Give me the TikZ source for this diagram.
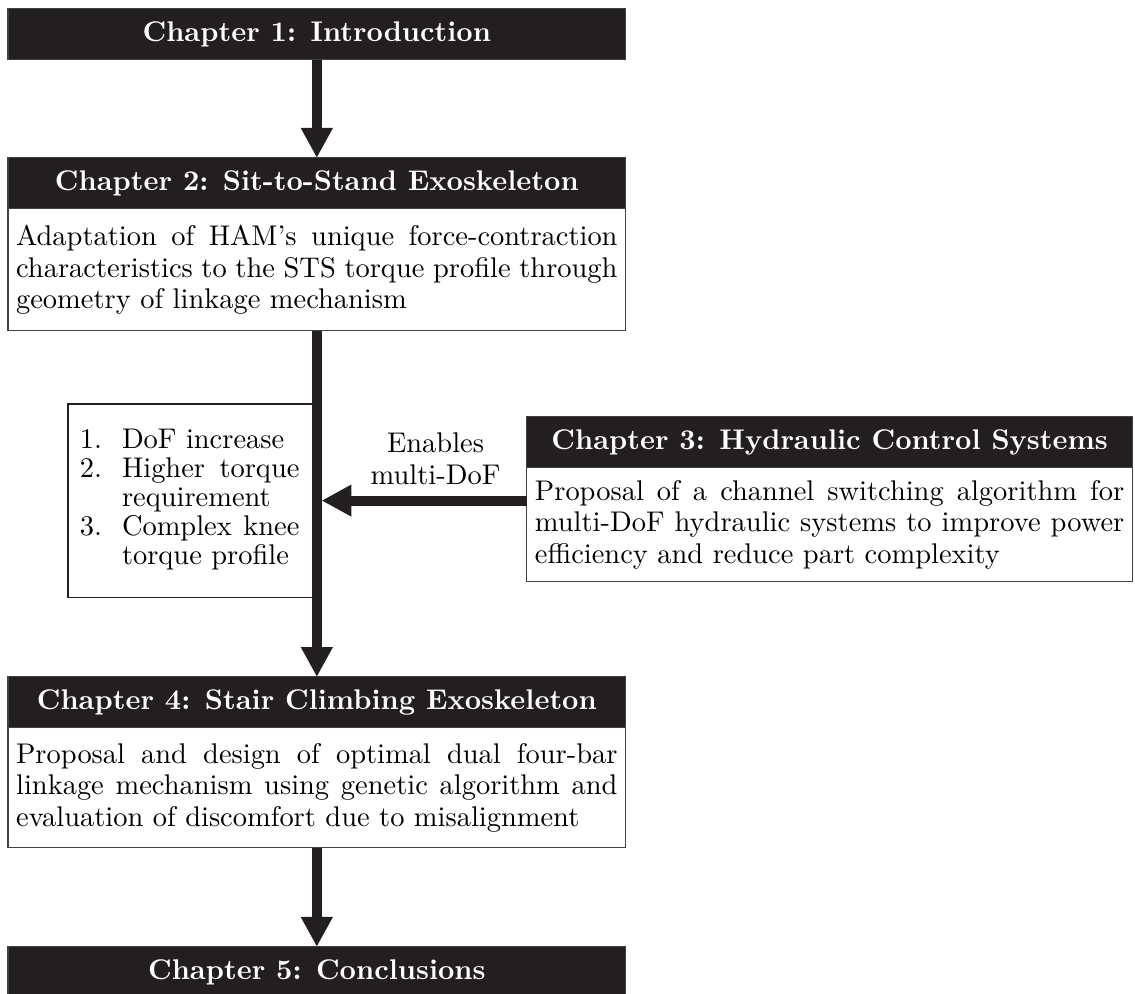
\documentclass[tikz,border=0pt]{standalone}
\usepackage{tikz}
\usepackage{enumitem}
\usetikzlibrary{positioning}
\usetikzlibrary{arrows.meta}
\definecolor{chapdark}{RGB}{35,31,32}
\hyphenpenalty=10000
\exhyphenpenalty=10000
\tikzset{chapHead/.style={draw=chapdark!85, fill=chapdark, text=white, font=\fontsize{10.95}{12}\selectfont\bfseries, minimum width=#1, minimum height=0.69cm, inner sep=0pt, outer sep=0pt}}
\tikzset{chapHead/.default=8.354cm}
\tikzset{chapBody/.style={draw=chapdark!85, fill=white, text width=#1, align=justify, font=\fontsize{10.95}{12.2}\selectfont, inner xsep=0.11cm, inner ysep=4pt, outer sep=0pt}}
\tikzset{chapBody/.default=8.134cm}
\tikzset{listBox/.style={draw=chapdark, line width=0.6pt, fill=white, text width=3.04cm, align=justify, font=\fontsize{10.95}{11.1}\selectfont, inner xsep=0.162cm, minimum height=2.62cm, outer sep=0pt}}
\tikzset{bigArrow/.style={line width=3.85pt, draw=chapdark, -{Triangle[width=11.5pt,length=11.5pt]}}}

\begin{document}
\begin{tikzpicture}

\useasboundingbox (0,0) rectangle (15.35,-13.44);

\node[chapHead] (ch1) at (4.285, -0.46) {Chapter 1: Introduction};

\node[chapHead] (ch2) at (4.285, -2.48) {Chapter 2: Sit-to-Stand Exoskeleton};
\node[chapBody, below=0pt of ch2, minimum height=1.65cm] (ch2text) {Adaptation of HAM's unique force-contraction characteristics to the STS torque profile through geometry of linkage mechanism};

\node[listBox] (reasons) at (2.60, -6.77) {%
\begin{enumerate}[nosep, leftmargin=0.57cm, labelsep=0.27cm, rightmargin=0.07cm, label=\arabic*.]
\item DoF increase
\item Higher torque requirement
\item Complex knee torque profile
\end{enumerate}\par\kern4.5pt};

\node[chapHead=8.19cm] (ch3) at (11.22, -5.98) {Chapter 3: Hydraulic Control Systems};
\node[chapBody=7.97cm, below=0pt of ch3, minimum height=1.54cm] (ch3text) {Proposal of a channel switching algorithm for multi-DoF hydraulic systems to improve power efficiency and reduce part complexity};

\node[align=center, font=\fontsize{10.95}{12.3}\selectfont] (enables) at (5.89, -6.20) {Enables\\multi-DoF};

\node[chapHead] (ch4) at (4.285, -9.50) {Chapter 4: Stair Climbing Exoskeleton};
\node[chapBody, below=0pt of ch4, minimum height=1.62cm] (ch4text) {Proposal and design of optimal dual four-bar linkage mechanism using genetic algorithm and evaluation of discomfort due to misalignment};

\node[chapHead] (ch5) at (4.285, -13.15) {Chapter 5: Conclusions};

\draw[bigArrow] (ch1.south) -- (ch2.north);
\draw[bigArrow] (ch2text.south) -- (ch4.north);
\draw[bigArrow] (reasons.east -| ch3text.west) -- ([xshift=1.9pt]reasons.east);
\draw[bigArrow] (ch4text.south) -- (ch5.north);

\end{tikzpicture}
\end{document}
